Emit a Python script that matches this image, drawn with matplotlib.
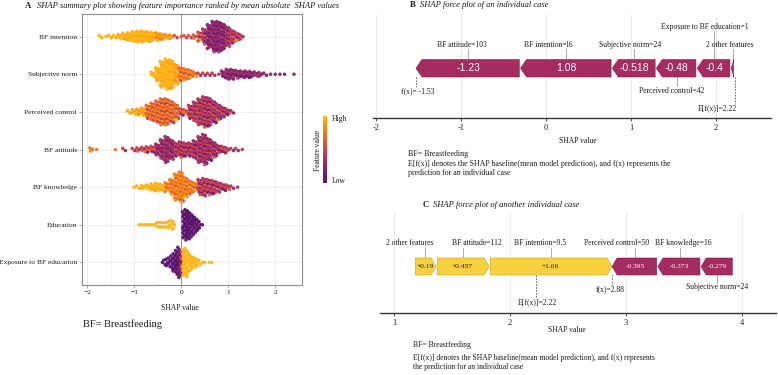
import numpy as np
import matplotlib
matplotlib.use("Agg")
import matplotlib.pyplot as plt
from matplotlib.colors import LinearSegmentedColormap
from matplotlib.patches import Polygon
import matplotlib.colorbar as mcolorbar

plt.rcParams['font.family'] = ['Liberation Serif', 'DejaVu Serif']

# ---------------- Panel A data (binned beeswarm) ----------------
features = ["BF intention", "Subjective norm", "Perceived control", "BF attitude",
            "BF knowledge", "Education", "Exposure to BF education"]

intention_x = [-1.7, -1.6, -1.5, -1.4, -1.3, -1.2, -1.1, -1.0, -0.9, -0.8, -0.7, -0.6, -0.5, -0.4, -0.3,
               -0.2, -0.1, 0.0, 0.1, 0.2, 0.3, 0.4, 0.5, 0.6, 0.7, 0.8, 0.9, 1.0, 1.1, 1.2, 1.3]
intention_n = [2, 1, 2, 2, 4, 6, 7, 9, 10, 10, 9, 8, 7, 5, 4, 3, 2, 1, 2, 2, 3, 8, 14, 22, 28, 28, 24, 18, 12, 7, 3]
intention_c = [0.95] * 12 + [0.85] * 4 + [0.6] * 5 + [0.5, 0.35, 0.2, 0.2, 0.2, 0.2, 0.3, 0.4, 0.4, 0.4]

norm_x = [-0.6, -0.5, -0.4, -0.3, -0.2, -0.1, 0.0, 0.1, 0.2, 0.3, 0.4, 0.5, 0.6, 0.7, 0.8, 0.9, 1.0,
          1.1, 1.2, 1.3, 1.4, 1.5, 1.6, 1.7, 1.8, 1.9, 2.0, 2.1, 2.2, 2.4]
norm_n = [4, 12, 24, 28, 26, 18, 12, 10, 8, 4, 2, 2, 2, 2, 1, 6, 9, 9, 7, 6, 6, 5, 4, 3, 2, 1, 1, 1, 1, 1]
norm_c = [0.95] * 5 + [0.9] + [0.72] * 4 + [0.45] * 5 + [0.22] * 15

control_x = [-1.1, -1.0, -0.9, -0.8, -0.7, -0.6, -0.5, -0.4, -0.3, -0.2, -0.1, 0.0, 0.1, 0.2, 0.3,
             0.4, 0.5, 0.6, 0.7, 0.8, 0.9, 1.0, 1.1]
control_n = [2, 4, 5, 7, 12, 16, 20, 24, 24, 20, 14, 6, 4, 12, 18, 24, 28, 26, 20, 14, 9, 5, 2]
control_c = [0.9] * 4 + [0.65] * 7 + [0.55] * 2 + [0.35] * 10

attitude_x = [-1.9, -1.8, -1.4, -1.2, -1.0, -0.9, -0.8, -0.7, -0.6, -0.5, -0.4, -0.3, -0.2, -0.1,
              0.0, 0.1, 0.2, 0.3, 0.4, 0.5, 0.6, 0.7, 0.8, 0.9, 1.0, 1.1, 1.2, 1.3]
attitude_n = [3, 1, 1, 2, 2, 3, 4, 5, 6, 10, 18, 24, 18, 12, 14, 12, 12, 16, 24, 28, 20, 14, 8, 6, 3, 2, 2, 1]
attitude_c = [0.75] * 3 + [0.45] * 6 + [0.25] * 4 + [0.35] * 4 + [0.3] * 6 + [0.4] * 5

knowledge_x = [-1.0, -0.9, -0.8, -0.7, -0.6, -0.5, -0.4, -0.3, -0.2, -0.1, 0.0, 0.1, 0.2, 0.3,
               0.4, 0.5, 0.6, 0.7, 0.8, 0.9, 1.0, 1.1, 1.2]
knowledge_n = [1, 2, 3, 4, 6, 7, 5, 8, 14, 24, 28, 18, 12, 8, 14, 16, 14, 12, 9, 6, 4, 2, 1]
knowledge_c = [0.95] * 7 + [0.75] * 7 + [0.38] * 9

education_x = [-0.90, -0.85, -0.80, -0.75, -0.70, -0.65, -0.60, -0.55, -0.50, -0.45, -0.40, -0.35,
               -0.30, -0.25, -0.20, -0.15, 0.05, 0.10, 0.15, 0.20, 0.25, 0.30, 0.35, 0.40, 0.45]
education_n = [1, 1, 1, 1, 1, 1, 1, 1, 2, 2, 2, 2, 2, 3, 4, 3, 12, 14, 13, 11, 9, 7, 5, 3, 1]
education_c = [0.98] * 16 + [0.02] * 9

exposure_x = [-0.40, -0.35, -0.30, -0.25, -0.20, -0.15, -0.10, -0.05, 0.00, 0.05, 0.10, 0.15,
              0.20, 0.25, 0.30, 0.35, 0.40, 0.45, 0.50, 0.60, 0.65]
exposure_n = [1, 2, 3, 4, 6, 8, 11, 14, 9, 12, 13, 10, 7, 5, 4, 3, 2, 1, 1, 1, 1]
exposure_c = [0.02] * 8 + [0.35] + [0.98] * 12

swarm_data = [
    (intention_x, intention_n, intention_c, 0.1),
    (norm_x, norm_n, norm_c, 0.1),
    (control_x, control_n, control_c, 0.1),
    (attitude_x, attitude_n, attitude_c, 0.1),
    (knowledge_x, knowledge_n, knowledge_c, 0.1),
    (education_x, education_n, education_c, 0.05),
    (exposure_x, exposure_n, exposure_c, 0.05),
]

# ---------------- Panel B / C data (force plots) ----------------
caseB_base, caseB_fx = 2.22, -1.53
caseB_names = ["BF attitude=103", "BF intention=l6", "Subjective norm=24", "Perceived control=42",
               "Exposure to BF education=1", "2 other features"]
caseB_shap = [-1.23, -1.08, -0.518, -0.48, -0.4, -0.042]
caseB_text = ["-1.23", "1.08", "-0.518", "-0.48", "-0.4", ""]

caseC_base, caseC_fx = 2.22, 2.88
caseC_names = ["BF intention=9.5", "BF attitude=112", "2 other features", "Perceived control=50",
               "BF knowledge=16", "Subjective norm=24"]
caseC_shap = [1.06, 0.457, 0.19, -0.395, -0.373, -0.279]
caseC_text = ["+1.06", "+0.457", "+0.19", "-0.395", "-0.373", "-0.279"]

# ---------------- layout helpers ----------------
W, H = 778, 375
fig = plt.figure(figsize=(W / 100, H / 100), dpi=100)
fig.patch.set_facecolor("white")


def ax_px(l, t, r, b):
    return fig.add_axes([l / W, 1 - b / H, (r - l) / W, (b - t) / H])


def ftext(x, y, s, **kw):
    kw.setdefault("va", "center")
    return fig.text(x / W, 1 - y / H, s, **kw)


TXT = "#1a1a1a"
base_cmap = plt.get_cmap("inferno")
cmap = LinearSegmentedColormap.from_list("shapviz", base_cmap(np.linspace(0.25, 0.85, 256)))

# ================= Panel A =================
axA = ax_px(82, 14, 302, 285)
axA.set_xlim(-2.11, 2.57)
axA.set_ylim(6.6, -0.6)
mix = [0.0, -1.0, 0.8, -0.5, 1.0, -0.8, 0.4]
xpat = [-0.43, 0.14, -0.29, 0.29, -0.14, 0.43, 0.0]
for row, (xs, ns, cs, bw) in enumerate(swarm_data):
    px, py, pc = [], [], []
    for c, n, lv in zip(xs, ns, cs):
        h = min(n * 0.0143 * (0.1 / bw), 0.42)
        yy = np.linspace(-h, h, n) if n > 1 else np.array([0.0])
        spread = 0.7 * min(lv, 1 - lv)
        for i, yv in enumerate(yy):
            sub = xpat[i % len(xpat)] if n > 1 else 0.0
            px.append(c + sub * bw)
            py.append(row + yv)
            pc.append(np.clip(lv + spread * mix[(i * 3) % len(mix)], 0, 1))
    axA.scatter(px, py, c=pc, cmap=cmap, vmin=0, vmax=1, s=6.5, linewidths=0, alpha=0.95, zorder=3)

axA.set_xticks([-2, -1, 0, 1, 2])
axA.set_xticks([-1.5, -0.5, 0.5, 1.5, 2.5], minor=True)
axA.set_yticks(range(len(features)))
axA.set_yticklabels(features)
axA.grid(which="major", color="#ebebeb", lw=0.6)
axA.grid(which="minor", axis="x", color="#f2f2f2", lw=0.5)
axA.set_axisbelow(True)
axA.axvline(0, color="#9a9a9a", lw=0.8, zorder=1)
for sp in axA.spines.values():
    sp.set_color("#8c8c8c")
    sp.set_linewidth(0.8)
axA.tick_params(axis="both", which="major", labelsize=5.4, length=2, width=0.5, color="#8c8c8c",
                labelcolor=TXT, pad=1.5)
axA.tick_params(axis="x", which="minor", length=0)

ftext(25, 6, "A", weight="bold", size=6.3, color=TXT)
ftext(37, 6, "SHAP summary plot showing feature importance ranked by mean absolute  SHAP values",
      style="italic", size=6.1, color=TXT)
ftext(180, 308, "SHAP value", ha="center", size=5.5, color=TXT)
ftext(83, 324, "BF= Breastfeeding", ha="left", size=7.5, color=TXT)

cax = ax_px(323, 116, 326.5, 183)
cb = mcolorbar.ColorbarBase(cax, cmap=cmap, orientation="vertical")
cb.set_ticks([])
cb.outline.set_visible(False)
ftext(332, 119, "High", ha="left", size=5.5, color=TXT)
ftext(332, 181, "Low", ha="left", size=5.5, color=TXT)
ftext(318, 150, "Feature value", ha="center", rotation=90, size=5.5, color=TXT)

# ================= force plot helper =================
POS_COL, NEG_COL = "#f7d13d", "#a52c60"
POS_EDGE, NEG_EDGE = "#c9a52a", "#7a1f47"


def force_panel(ax, l_px, r_px, xlim, bar_top, bar_bot, fx_val, base_val, shap, texts, names,
                label_pos, tip_px, val_size, val_family, fx_lab, base_lab):
    unit = (r_px - l_px) / (xlim[1] - xlim[0])
    tip = tip_px / unit
    gap = 1.2 / unit
    mid = (bar_top + bar_bot) / 2
    segs = []
    pos_acc = neg_acc = 0.0
    for v in shap:
        if v > 0:
            b = fx_val - pos_acc
            a = b - v
            pos_acc += v
            segs.append((a, b, 1))
        else:
            a = fx_val + neg_acc
            b = a - v
            neg_acc -= v
            segs.append((a, b, -1))
    centers = []
    for (a, b, d), txt in zip(segs, texts):
        t = min(tip, (b - a) * 0.8)
        if d > 0:
            pts = [(a + gap, bar_top), (b - t, bar_top), (b, mid), (b - t, bar_bot), (a + gap, bar_bot)]
            fc, ec, tc = POS_COL, POS_EDGE, "#1a1a1a"
        else:
            pts = [(b - gap, bar_top), (a + t, bar_top), (a, mid), (a + t, bar_bot), (b - gap, bar_bot)]
            fc, ec, tc = NEG_COL, NEG_EDGE, "white"
        ax.add_patch(Polygon(pts, closed=True, facecolor=fc, edgecolor=ec, lw=0.4, zorder=3))
        cx = (a + b) / 2
        centers.append(cx)
        if txt:
            ax.text(cx, mid, txt, ha="center", va="center", color=tc, size=val_size,
                    family=val_family, zorder=4)
    items = []
    for name, cx, (lx, ly) in zip(names, centers, label_pos):
        xd = xlim[0] + (lx - l_px) / unit
        t = ax.text(xd, ly, name, ha="center", va="center", size=5.5, color=TXT, zorder=4)
        items.append((t, cx, ly < bar_top))
    lx_fx, ly_fx = fx_lab
    lx_b, ly_b = base_lab
    ax.plot([fx_val, fx_val], [bar_bot, ly_fx - 4], ls=(0, (2, 1.5)), color="#555555", lw=0.6, zorder=2)
    ax.plot([base_val, base_val], [bar_bot, ly_b - 4], ls=(0, (2, 1.5)), color="#555555", lw=0.6, zorder=2)
    ax.text(xlim[0] + (lx_fx - l_px) / unit, ly_fx, "f(x)=" + ("%g" % fx_val if fx_val > 0 else " %g" % fx_val),
            ha="center", va="center", size=5.5, color=TXT)
    ax.text(xlim[0] + (lx_b - l_px) / unit, ly_b, "E[f(x)]=%g" % base_val,
            ha="center", va="center", size=5.5, color=TXT)
    return items


def connect(ax, items, bar_top, bar_bot, renderer):
    inv = ax.transData.inverted()
    for t, cx, above in items:
        bb = t.get_window_extent(renderer)
        (x0, y0), (x1, y1) = inv.transform([(bb.x0, bb.y0), (bb.x1, bb.y1)])
        ylo, yhi = min(y0, y1), max(y0, y1)
        bx = min(max(cx, min(x0, x1)), max(x0, x1))
        if above:
            ax.plot([cx, bx], [bar_top, yhi + 0.5], color="#8a8a8a", lw=0.5, zorder=2)
        else:
            ax.plot([cx, bx], [bar_bot, ylo - 0.5], color="#8a8a8a", lw=0.5, zorder=2)


def style_axis(ax, ticks, xlim, top, bot):
    ax.set_xlim(*xlim)
    ax.set_ylim(bot, top)
    ax.set_xticks(ticks)
    ax.set_xticklabels([("%d" % t) for t in ticks])
    ax.set_yticks([])
    for s in ("left", "right", "top"):
        ax.spines[s].set_visible(False)
    ax.spines["bottom"].set_color("#333333")
    ax.spines["bottom"].set_linewidth(1.0)
    ax.grid(axis="x", color="#e6e6e6", lw=0.6)
    ax.set_axisbelow(True)
    ax.tick_params(axis="x", labelsize=6, length=2.5, width=0.6, color="#333333", labelcolor=TXT, pad=2)
    ax.patch.set_alpha(0)


# ================= Panel B =================
B_l, B_r, B_t, B_b = 373, 771, 15, 118
B_xlim = (-2 + (B_l - 376) / 85, -2 + (B_r - 376) / 85)
axB = ax_px(B_l, B_t, B_r, B_b)
style_axis(axB, [-2, -1, 0, 1, 2], B_xlim, B_t, B_b)
B_label_pos = [(462, 45), (548, 45), (630, 45), (672, 91), (705, 27), (730, 45)]
itemsB = force_panel(axB, B_l, B_r, B_xlim, 59.5, 77, caseB_fx, caseB_base, caseB_shap, caseB_text,
                     caseB_names, B_label_pos, 6, val_size=7.5, val_family="Liberation Sans",
                     fx_lab=(418, 91), base_lab=(717, 108))
ftext(410, 5, "B", weight="bold", size=6.3, color=TXT)
ftext(420, 5, "SHAP force plot of an individual case", style="italic", size=6.1, color=TXT)
ftext(578, 141, "SHAP value", ha="center", size=5.5, color=TXT)
ftext(408, 154, "BF= Breastfeeding", ha="left", size=5.7, color=TXT)
ftext(408, 164, "E[f(x)] denotes the SHAP baseline(mean model prediction), and f(x) represents the",
      ha="left", size=5.7, color=TXT)
ftext(408, 173, "prediction for an individual case", ha="left", size=5.7, color=TXT)

# ================= Panel C =================
C_l, C_r, C_t, C_b = 380, 776, 212, 313
C_xlim = (1 + (C_l - 394) / 116, 1 + (C_r - 394) / 116)
axC = ax_px(C_l, C_t, C_r, C_b)
style_axis(axC, [1, 2, 3, 4], C_xlim, C_t, C_b)
C_label_pos = [(540, 243), (477, 243), (410, 243), (617, 243), (683, 243), (717, 287)]
itemsC = force_panel(axC, C_l, C_r, C_xlim, 258, 275, caseC_fx, caseC_base, caseC_shap, caseC_text,
                     caseC_names, C_label_pos, 5, val_size=5.4, val_family="Liberation Serif",
                     fx_lab=(610, 289), base_lab=(537, 302))
ftext(423, 205, "C", weight="bold", size=6.3, color=TXT)
ftext(433, 205, "SHAP force plot of another individual case", style="italic", size=6.1, color=TXT)
ftext(567, 330, "SHAP value", ha="center", size=5.5, color=TXT)
ftext(413, 345, "BF= Breastfeeding", ha="left", size=5.5, color=TXT)
ftext(413, 358, "E[f(x)] denotes the SHAP baseline(mean model prediction), and f(x) represents",
      ha="left", size=5.5, color=TXT)
ftext(413, 367, "the prediction for an individual case", ha="left", size=5.5, color=TXT)

fig.canvas.draw()
r = fig.canvas.get_renderer()
connect(axB, itemsB, 59.5, 77, r)
connect(axC, itemsC, 258, 275, r)

fig.savefig("out.png", dpi=100, facecolor="white")
